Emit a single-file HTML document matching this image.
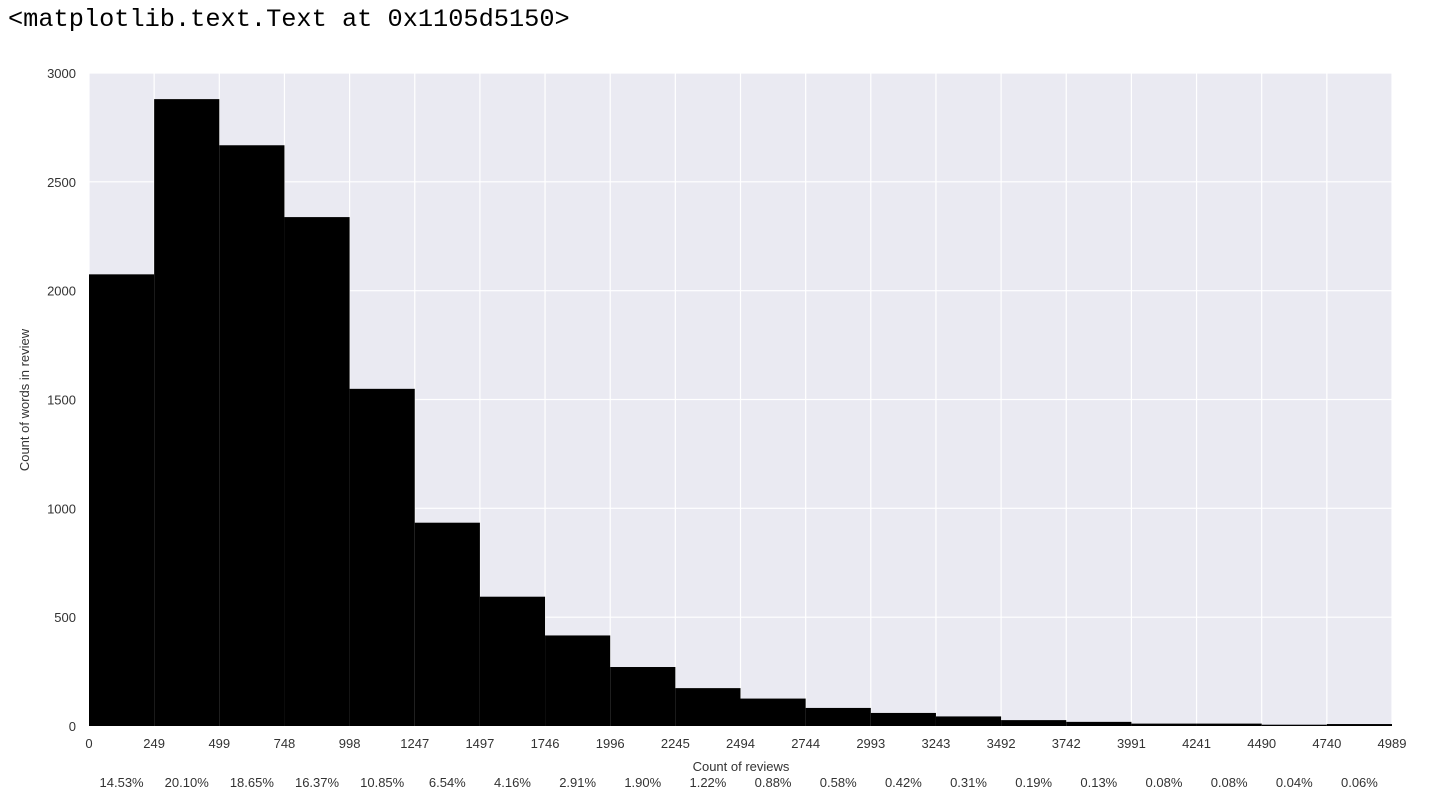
<!DOCTYPE html>
<html><head><meta charset="utf-8"><style>
body{margin:0;background:#fff;width:1454px;height:804px;overflow:hidden}
svg{display:block}
.t{font-family:"Liberation Sans",Arial,sans-serif;font-size:13px;fill:#333}
</style></head><body>
<svg width="1454" height="804">
<text x="8" y="26" style="font-family:'Liberation Mono',monospace;font-size:25.3px;fill:#000">&lt;matplotlib.text.Text at 0x1105d5150&gt;</text>
<rect x="89" y="73" width="1303" height="653" fill="#eaeaf2"/>
<g id="grid"></g><g id="bars"></g><g id="labels"></g>
<text class="t" x="741" y="771" text-anchor="middle" font-size="14">Count of reviews</text>
<text class="t" x="29" y="400" text-anchor="middle" font-size="14" transform="rotate(-90 29 400)">Count of words in review</text>
</svg>
<script>
const xTicks=["0","249","499","748","998","1247","1497","1746","1996","2245","2494","2744","2993","3243","3492","3742","3991","4241","4490","4740","4989"];
const counts=[2075,2880,2668,2338,1549,934,594,416,271,174,126,83,60,44,27,19,11,11,6,9];
const pcts=["14.53%","20.10%","18.65%","16.37%","10.85%","6.54%","4.16%","2.91%","1.90%","1.22%","0.88%","0.58%","0.42%","0.31%","0.19%","0.13%","0.08%","0.08%","0.04%","0.06%"];
const yTicks=[0,500,1000,1500,2000,2500,3000];
const NS="http://www.w3.org/2000/svg";
const x0=89,x1=1392,yb=726,yt=73,ymax=3000;
const n=counts.length,bw=(x1-x0)/n;
const X=i=>x0+i*bw;
const Y=v=>yb-(v/ymax)*(yb-yt);
function mk(tag,attrs,parent,txt){const e=document.createElementNS(NS,tag);for(const k in attrs)e.setAttribute(k,attrs[k]);if(txt!==undefined)e.textContent=txt;document.getElementById(parent).appendChild(e);return e;}
yTicks.forEach(v=>{
 const l=mk('line',{x1:x0,x2:x1,y1:Y(v),y2:Y(v),stroke:'#fff','stroke-width':1.2},'grid');
 
 
 const t=mk('text',{x:x0-13,y:Y(v)+5,'text-anchor':'end',class:'t'},'labels',String(v));
 
 
});
xTicks.forEach((s,i)=>{
 const l=mk('line',{x1:X(i),x2:X(i),y1:yt,y2:yb,stroke:'#fff','stroke-width':1.2},'grid');
 
 
 const t=mk('text',{x:X(i),y:748,'text-anchor':'middle',class:'t'},'labels',s);
 
 
});
counts.forEach((c,i)=>{
 const r=mk('rect',{x:X(i),y:Y(c),width:bw,height:yb-Y(c),fill:'#000'},'bars');
 
 
 const t=mk('text',{x:X(i)+bw/2,y:787,'text-anchor':'middle',class:'t'},'labels',pcts[i]);
 
 
});
</script>
</body></html>
